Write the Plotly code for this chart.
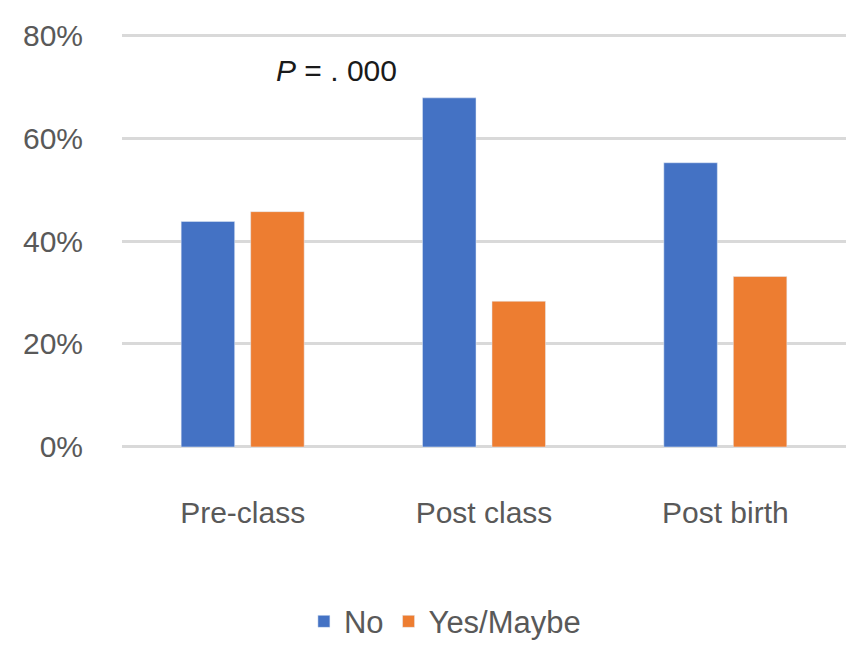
import plotly.graph_objects as go

# Survey responses by stage
categories = ["Pre-class", "Post class", "Post birth"]
no_pct = [43.8, 67.8, 55.2]
yes_maybe_pct = [45.7, 28.3, 33.1]
y_ticks = [0, 20, 40, 60, 80]
y_tick_labels = ["0%", "20%", "40%", "60%", "80%"]

BLUE = "#4472C4"
ORANGE = "#ED7D31"
GRAY_TEXT = "#595959"
GRID = "#D9D9D9"
FONT = "Liberation Sans, Arial, sans-serif"

fig = go.Figure()
fig.add_trace(go.Bar(x=categories, y=no_pct, name="No", marker_color=BLUE))
fig.add_trace(go.Bar(x=categories, y=yes_maybe_pct, name="Yes/Maybe", marker_color=ORANGE))

fig.add_annotation(
    x=0.39, y=73.2, xref="x", yref="y",
    text="<i>P</i> = . 000", showarrow=False,
    font=dict(family=FONT, size=30, color="#1a1a1a"),
)

fig.update_layout(
    width=863, height=651,
    margin=dict(l=122, r=17, t=33, b=202),
    plot_bgcolor="white", paper_bgcolor="white",
    barmode="group", bargap=0.424, bargroupgap=0.23,
    font=dict(family=FONT, size=30, color=GRAY_TEXT),
    showlegend=True,
    legend=dict(
        orientation="h", x=0.446, xref="paper", xanchor="center",
        yref="container", y=0.045, yanchor="middle",
        font=dict(size=31, color=GRAY_TEXT),
        itemwidth=30, traceorder="normal",
    ),
    xaxis=dict(
        showgrid=False, showline=False, zeroline=False, ticks="",
        automargin=False, ticklabelstandoff=43,
        tickfont=dict(size=30, color=GRAY_TEXT),
    ),
    yaxis=dict(
        range=[-0.4, 80.4], tickvals=y_ticks, ticktext=y_tick_labels,
        showgrid=True, gridcolor=GRID, gridwidth=2.5,
        zeroline=False, showline=False, ticks="",
        automargin=False, ticklabelstandoff=38,
        tickfont=dict(size=30, color=GRAY_TEXT),
    ),
)

fig.write_html("out.html")
